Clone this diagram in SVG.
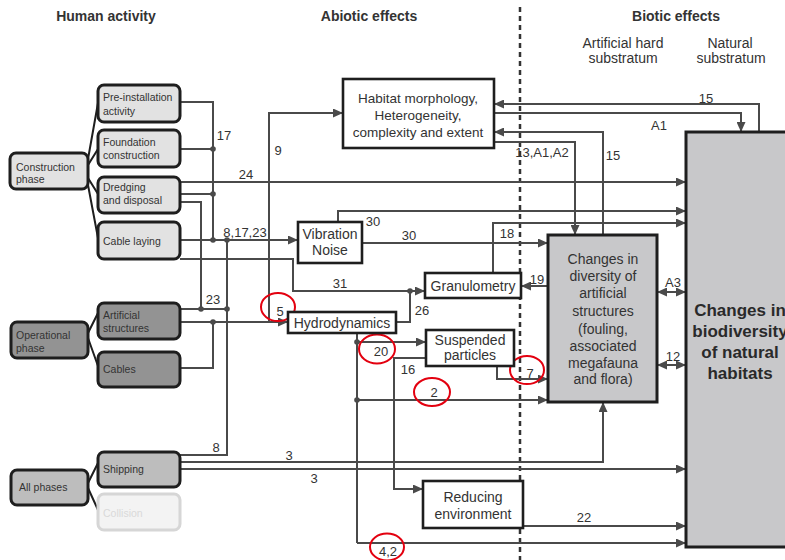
<svg xmlns="http://www.w3.org/2000/svg" width="785" height="560" viewBox="0 0 785 560">
  <defs>
    <marker id="arr" markerUnits="userSpaceOnUse" markerWidth="11" markerHeight="9" refX="10" refY="4.5" orient="auto-start-reverse">
      <path d="M0,0 L10,4.5 L0,9 z" fill="#4a4a4a"/>
    </marker>
    <style>
      .hd{font-family:"Liberation Sans",Arial,sans-serif;font-size:14px;font-weight:bold;fill:#333;text-anchor:middle}
      .sub{font-family:"Liberation Sans",Arial,sans-serif;font-size:14px;fill:#333;text-anchor:middle}
      .act rect{stroke:#1e1e1e;stroke-width:3}
      .act text{font-family:"Liberation Sans",Arial,sans-serif;font-size:10.5px;fill:#333}
      .c1 rect{fill:#e2e2e2}
      .c2 rect{fill:#939393}
      .c3 rect{fill:#bdbdbd}
      .eff rect{fill:#fff;stroke:#1e1e1e;stroke-width:2.6}
      .eff text{font-family:"Liberation Sans",Arial,sans-serif;font-size:14px;fill:#333;text-anchor:middle}
      .bio rect{fill:#c8c8ca;stroke:#1e1e1e;stroke-width:3}
      .bio text{font-family:"Liberation Sans",Arial,sans-serif;font-size:14px;fill:#333;text-anchor:middle}
      .big text{font-size:17px;font-weight:bold;fill:#2a2a2a}
      .ln{fill:none;stroke:#4a4a4a;stroke-width:2}
      .ar{marker-end:url(#arr)}
      .da{marker-start:url(#arr);marker-end:url(#arr)}
      .fan{fill:none;stroke:#1e1e1e;stroke-width:2}
      .dot{fill:#4a4a4a}
      .lb{font-family:"Liberation Sans",Arial,sans-serif;font-size:13px;fill:#333;text-anchor:middle}
      .ring{fill:none;stroke:#e3000f;stroke-width:2}
    </style>
  </defs>
  <rect width="785" height="560" fill="#fff"/>

  <!-- column headings -->
  <g id="headings">
    <text class="hd" x="106" y="21">Human activity</text>
    <text class="hd" x="369" y="21">Abiotic effects</text>
    <text class="hd" x="676" y="21">Biotic effects</text>
    <text class="sub" x="623" y="48">Artificial hard</text>
    <text class="sub" x="623" y="63">substratum</text>
    <text class="sub" x="730" y="48">Natural</text>
    <text class="sub" x="731" y="63">substratum</text>
  </g>

  <!-- divider between abiotic and biotic effects -->
  <line x1="520" y1="7" x2="520" y2="560" stroke="#333" stroke-width="2.5" stroke-dasharray="5,4"/>

  <!-- connectors -->
  <g id="connectors">
    <!-- phase to activity brackets -->
    <path class="fan" d="M88,159 L98,103 M88,165 L98,149 M88,178 L98,194 M88,185 L98,238"/>
    <path class="fan" d="M88,333 L98,313 M88,338 L98,366"/>
    <path class="fan" d="M88,483 L98,463 M88,488 L98,510"/>

    <!-- construction phase outputs -->
    <path class="ln" d="M180,102 H213 V240"/>
    <path class="ln" d="M180,149 H213"/>
    <path class="ln ar" d="M180,182 H686"/>
    <path class="ln" d="M180,194 H213"/>
    <path class="ln" d="M180,202 H201 V309"/>
    <path class="ln ar" d="M180,240 H298"/>
    <path class="ln ar" d="M180,259 H293 V291 H425"/>
    <path class="ln" d="M227,240 V455 H180"/>

    <!-- operational phase outputs -->
    <path class="ln" d="M180,309 H227"/>
    <path class="ln ar" d="M180,322 H288"/>
    <path class="ln" d="M180,368 H213 V322"/>
    <path class="ln ar" d="M269,322 V113 H343"/>

    <!-- shipping -->
    <path class="ln ar" d="M180,462 H603 V402"/>
    <path class="ln ar" d="M180,469 H686"/>

    <!-- vibration / noise -->
    <path class="ln ar" d="M338,222 V211 H686"/>
    <path class="ln ar" d="M362,243 H548"/>

    <!-- granulometry -->
    <path class="ln ar" d="M493,273 V223 H686"/>
    <path class="ln ar" d="M548,286 H521"/>
    <path class="ln" d="M396,322 H410 V291"/>

    <!-- hydrodynamics downstream -->
    <path class="ln" d="M357,333 V543"/>
    <path class="ln ar" d="M357,342 H426"/>
    <path class="ln ar" d="M357,400 H548"/>
    <path class="ln ar" d="M357,543 H686"/>

    <!-- suspended particles -->
    <path class="ln ar" d="M426,358 H394 V489 H423"/>
    <path class="ln ar" d="M497,366 V379 H548"/>

    <!-- reducing environment -->
    <path class="ln ar" d="M523,526 H686"/>

    <!-- habitat morphology loops -->
    <path class="ln ar" d="M759,132 V104 H494"/>
    <path class="ln ar" d="M494,113 H741 V132"/>
    <path class="ln ar" d="M603,235 V132 H494"/>
    <path class="ln ar" d="M494,142 H575 V235"/>

    <!-- artificial vs natural substratum -->
    <path class="ln da" d="M657,292 H686"/>
    <path class="ln da" d="M657,365 H686"/>

    <!-- junction dots -->
    <circle class="dot" cx="213" cy="149" r="2.8"/>
    <circle class="dot" cx="213" cy="194" r="2.8"/>
    <circle class="dot" cx="213" cy="240" r="2.8"/>
    <circle class="dot" cx="227" cy="240" r="2.8"/>
    <circle class="dot" cx="201" cy="309" r="2.8"/>
    <circle class="dot" cx="227" cy="309" r="2.8"/>
    <circle class="dot" cx="213" cy="322" r="2.8"/>
    <circle class="dot" cx="410" cy="291" r="2.8"/>
    <circle class="dot" cx="357" cy="342" r="2.8"/>
    <circle class="dot" cx="357" cy="400" r="2.8"/>

    <!-- effect numbers -->
    <text class="lb" x="224" y="140">17</text>
    <text class="lb" x="246" y="179">24</text>
    <text class="lb" x="245" y="237">8,17,23</text>
    <text class="lb" x="278" y="155">9</text>
    <text class="lb" x="373" y="226">30</text>
    <text class="lb" x="409" y="240">30</text>
    <text class="lb" x="507" y="238">18</text>
    <text class="lb" x="340" y="288">31</text>
    <text class="lb" x="537" y="284">19</text>
    <text class="lb" x="213" y="304">23</text>
    <text class="lb" x="280" y="316">5</text>
    <text class="lb" x="422" y="315">26</text>
    <text class="lb" x="381" y="356">20</text>
    <text class="lb" x="408" y="374">16</text>
    <text class="lb" x="434" y="397">2</text>
    <text class="lb" x="530" y="378">7</text>
    <text class="lb" x="673" y="287">A3</text>
    <text class="lb" x="673" y="361">12</text>
    <text class="lb" x="706" y="103">15</text>
    <text class="lb" x="659" y="130">A1</text>
    <text class="lb" x="613" y="160">15</text>
    <text class="lb" x="542" y="157">13,A1,A2</text>
    <text class="lb" x="216" y="452">8</text>
    <text class="lb" x="289" y="460">3</text>
    <text class="lb" x="314" y="483">3</text>
    <text class="lb" x="584" y="522">22</text>
    <text class="lb" x="388" y="556">4,2</text>
  </g>

  <!-- highlighted effect numbers -->
  <g id="highlights">
    <ellipse class="ring" cx="278" cy="307" rx="17" ry="14"/>
    <ellipse class="ring" cx="377" cy="349" rx="18" ry="14.5"/>
    <ellipse class="ring" cx="432" cy="392" rx="18" ry="14"/>
    <ellipse class="ring" cx="527" cy="370" rx="17" ry="14"/>
    <ellipse class="ring" cx="387" cy="547" rx="17" ry="13.5"/>
  </g>

  <!-- human activity -->
  <g id="construction-phase" class="act c1">
    <rect x="10" y="153" width="78" height="36" rx="6"/>
    <text x="16" y="171">Construction</text>
    <text x="16" y="183">phase</text>
  </g>
  <g id="pre-installation" class="act c1">
    <rect x="98" y="85" width="82" height="37" rx="6"/>
    <text x="103" y="101">Pre-installation</text>
    <text x="103" y="115">activity</text>
  </g>
  <g id="foundation-construction" class="act c1">
    <rect x="98" y="130" width="82" height="37" rx="6"/>
    <text x="103" y="146">Foundation</text>
    <text x="103" y="159">construction</text>
  </g>
  <g id="dredging" class="act c1">
    <rect x="98" y="177" width="82" height="36" rx="6"/>
    <text x="103" y="191">Dredging</text>
    <text x="103" y="204">and disposal</text>
  </g>
  <g id="cable-laying" class="act c1">
    <rect x="98" y="222" width="82" height="37" rx="6"/>
    <text x="103" y="245">Cable laying</text>
  </g>
  <g id="operational-phase" class="act c2">
    <rect x="11" y="322" width="77" height="36" rx="6"/>
    <text x="16" y="339">Operational</text>
    <text x="16" y="352">phase</text>
  </g>
  <g id="artificial-structures" class="act c2">
    <rect x="98" y="303" width="82" height="36" rx="6"/>
    <text x="103" y="319">Artificial</text>
    <text x="103" y="332">structures</text>
  </g>
  <g id="cables" class="act c2">
    <rect x="98" y="352" width="82" height="35" rx="6"/>
    <text x="103" y="373">Cables</text>
  </g>
  <g id="all-phases" class="act c3">
    <rect x="11" y="470" width="77" height="35" rx="6"/>
    <text x="19" y="491">All phases</text>
  </g>
  <g id="shipping" class="act c3">
    <rect x="98" y="452" width="82" height="35" rx="6"/>
    <text x="103" y="473">Shipping</text>
  </g>
  <g id="collision" class="act">
    <rect x="98" y="494" width="82" height="36" rx="6" fill="#f3f3f3" style="stroke:#d6d6d6"/>
    <text x="103" y="517" style="fill:#d9d9d9">Collision</text>
  </g>

  <!-- abiotic effects -->
  <g id="habitat-morphology" class="eff">
    <rect x="343" y="79" width="151" height="69"/>
    <text x="418" y="103" style="font-size:13.5px">Habitat morphology,</text>
    <text x="418" y="120" style="font-size:13.5px">Heterogeneity,</text>
    <text x="418" y="137" style="font-size:13.5px">complexity and extent</text>
  </g>
  <g id="vibration-noise" class="eff">
    <rect x="298" y="222" width="64" height="41"/>
    <text x="330" y="239">Vibration</text>
    <text x="330" y="255">Noise</text>
  </g>
  <g id="hydrodynamics" class="eff">
    <rect x="288" y="312" width="108" height="21"/>
    <text x="342" y="328">Hydrodynamics</text>
  </g>
  <g id="granulometry" class="eff">
    <rect x="425" y="273" width="96" height="25"/>
    <text x="473" y="291">Granulometry</text>
  </g>
  <g id="suspended-particles" class="eff">
    <rect x="426" y="330" width="88" height="36"/>
    <text x="470" y="345">Suspended</text>
    <text x="470" y="360">particles</text>
  </g>
  <g id="reducing-environment" class="eff">
    <rect x="423" y="481" width="100" height="47"/>
    <text x="473" y="502">Reducing</text>
    <text x="473" y="519">environment</text>
  </g>

  <!-- biotic effects -->
  <g id="artificial-diversity" class="bio">
    <rect x="548" y="235" width="109" height="167"/>
    <text x="603" y="264">Changes in</text>
    <text x="603" y="281">diversity of</text>
    <text x="603" y="298">artificial</text>
    <text x="603" y="316">structures</text>
    <text x="603" y="334">(fouling,</text>
    <text x="603" y="351">associated</text>
    <text x="603" y="368">megafauna</text>
    <text x="603" y="384">and flora)</text>
  </g>
  <g id="natural-biodiversity" class="bio big">
    <rect x="686" y="132" width="110" height="415"/>
    <text x="740" y="316">Changes in</text>
    <text x="740" y="337">biodiversity</text>
    <text x="740" y="358">of natural</text>
    <text x="740" y="379">habitats</text>
  </g>
</svg>
